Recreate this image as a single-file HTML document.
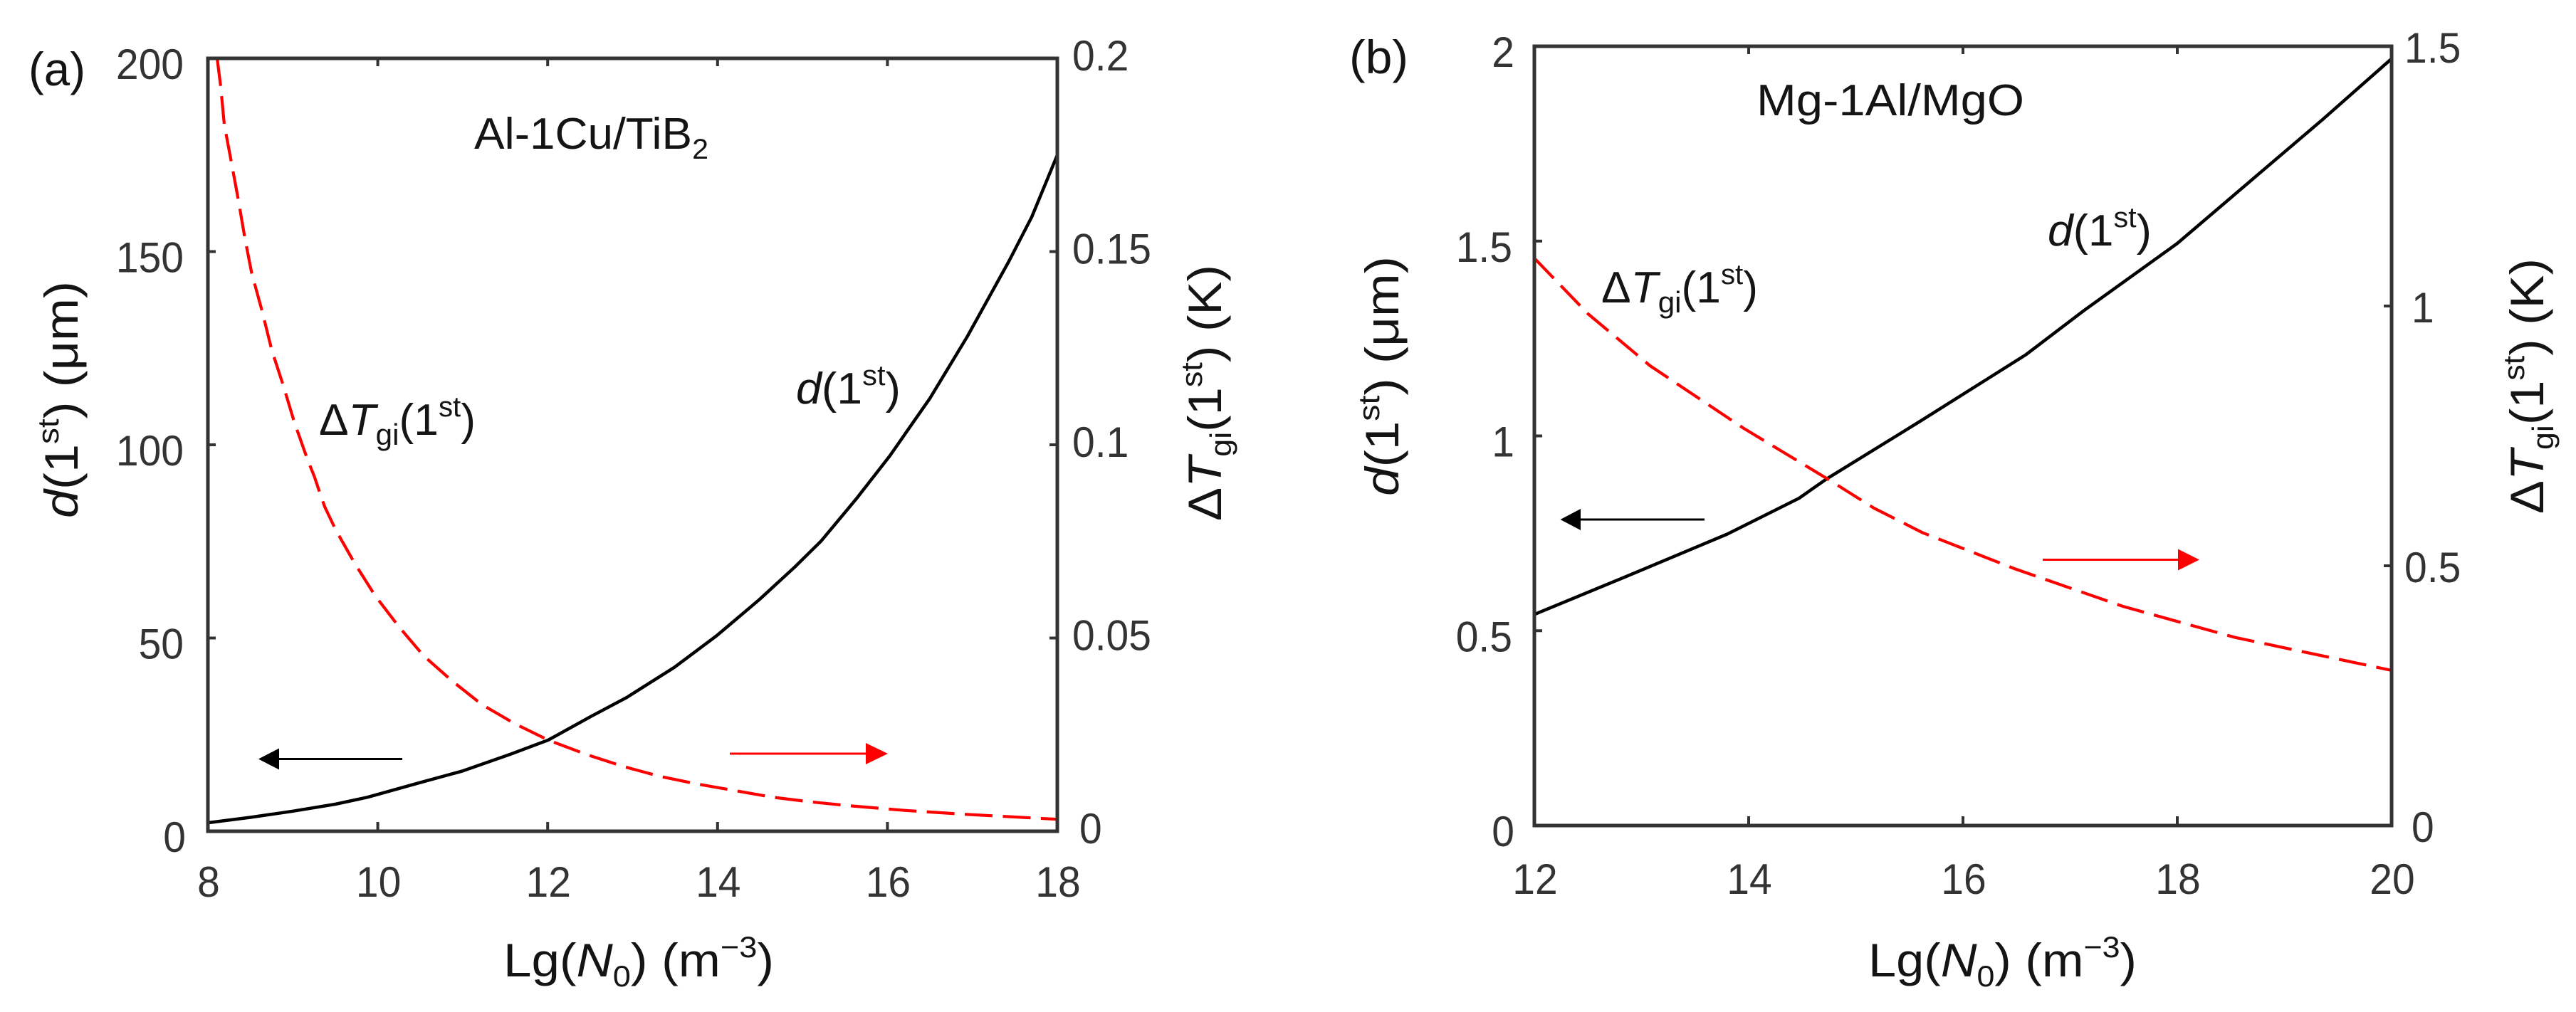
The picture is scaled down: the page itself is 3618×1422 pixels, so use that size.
<!DOCTYPE html>
<html lang="en">
<head>
<meta charset="utf-8">
<title>Lg(N0) charts</title>
<style>
html,body{margin:0;padding:0;background:#fff;width:3618px;height:1422px;overflow:hidden}
svg{display:block}
text{font-family:"Liberation Sans",sans-serif;fill:#262626}
.tick-label{font-size:60px;fill:#333}
.title{font-size:66px;fill:#141414}
.note{font-size:62px;fill:#141414}
.i{font-style:italic}
</style>
</head>
<body>
<svg id="figure" xmlns="http://www.w3.org/2000/svg" width="3618" height="1422" viewBox="0 0 3618 1422">
  <rect width="3618" height="1422" fill="#fff"/>
  <g id="panel-a"></g>
  <g id="panel-b"></g>

  <text class="title" x="40" y="120" textLength="80" lengthAdjust="spacingAndGlyphs">(a)</text>
  <text class="note" x="666" y="209" textLength="329" lengthAdjust="spacingAndGlyphs">Al-1Cu/TiB<tspan font-size="40" dy="14">2</tspan></text>
  <text class="note" x="448" y="611" textLength="220" lengthAdjust="spacingAndGlyphs">Δ<tspan class="i">T</tspan><tspan font-size="42" dy="14">gi</tspan><tspan dy="-14">(1</tspan><tspan font-size="40" dy="-26">st</tspan><tspan dy="26">)</tspan></text>
  <text class="note" x="1118" y="567" textLength="147" lengthAdjust="spacingAndGlyphs"><tspan class="i">d</tspan>(1<tspan font-size="40" dy="-26">st</tspan><tspan dy="26">)</tspan></text>
  <text class="title" transform="translate(109 728) rotate(-90)" textLength="333" lengthAdjust="spacingAndGlyphs"><tspan class="i">d</tspan>(1<tspan font-size="42" dy="-27">st</tspan><tspan dy="27">) (μm)</tspan></text>
  <text class="title" transform="translate(1715 732) rotate(-90)" textLength="360" lengthAdjust="spacingAndGlyphs">Δ<tspan class="i">T</tspan><tspan font-size="42" dy="14">gi</tspan><tspan dy="-14">(1</tspan><tspan font-size="42" dy="-27">st</tspan><tspan dy="27">) (K)</tspan></text>
  <text class="title" x="707" y="1372" textLength="380" lengthAdjust="spacingAndGlyphs">Lg(<tspan class="i">N</tspan><tspan font-size="42" dy="14">0</tspan><tspan dy="-14">) (m</tspan><tspan font-size="42" dy="-27">−3</tspan><tspan dy="27">)</tspan></text>

  <g>
    <line x1="565" y1="1066.5" x2="390" y2="1066.5" stroke="#000" stroke-width="3"/>
    <polygon points="363,1066.5 392,1051.5 392,1081.5" fill="#000"/>
  </g>
  <g>
    <line x1="1025" y1="1059" x2="1218" y2="1059" stroke="#f00" stroke-width="3"/>
    <polygon points="1247,1059 1216,1044 1216,1074" fill="#f00"/>
  </g>

  <text class="title" x="1895" y="103" textLength="83" lengthAdjust="spacingAndGlyphs">(b)</text>
  <text class="note" x="2467" y="162" textLength="376" lengthAdjust="spacingAndGlyphs">Mg-1Al/MgO</text>
  <text class="note" x="2249" y="425" textLength="220" lengthAdjust="spacingAndGlyphs">Δ<tspan class="i">T</tspan><tspan font-size="42" dy="14">gi</tspan><tspan dy="-14">(1</tspan><tspan font-size="40" dy="-26">st</tspan><tspan dy="26">)</tspan></text>
  <text class="note" x="2876" y="345" textLength="146" lengthAdjust="spacingAndGlyphs"><tspan class="i">d</tspan>(1<tspan font-size="40" dy="-26">st</tspan><tspan dy="26">)</tspan></text>
  <text class="title" transform="translate(1964 697) rotate(-90)" textLength="337" lengthAdjust="spacingAndGlyphs"><tspan class="i">d</tspan>(1<tspan font-size="42" dy="-27">st</tspan><tspan dy="27">) (μm)</tspan></text>
  <text class="title" transform="translate(3572 722) rotate(-90)" textLength="359" lengthAdjust="spacingAndGlyphs">Δ<tspan class="i">T</tspan><tspan font-size="42" dy="14">gi</tspan><tspan dy="-14">(1</tspan><tspan font-size="42" dy="-27">st</tspan><tspan dy="27">) (K)</tspan></text>
  <text class="title" x="2624" y="1372" textLength="377" lengthAdjust="spacingAndGlyphs">Lg(<tspan class="i">N</tspan><tspan font-size="42" dy="14">0</tspan><tspan dy="-14">) (m</tspan><tspan font-size="42" dy="-27">−3</tspan><tspan dy="27">)</tspan></text>

  <g>
    <line x1="2394" y1="730" x2="2218" y2="730" stroke="#000" stroke-width="3"/>
    <polygon points="2191.5,730 2220,715 2220,745" fill="#000"/>
  </g>
  <g>
    <line x1="2869" y1="786.5" x2="3061" y2="786.5" stroke="#f00" stroke-width="3"/>
    <polygon points="3089,786.5 3059,771.5 3059,801.5" fill="#f00"/>
  </g>
</svg>
<script>
// Panel (a): Al-1Cu/TiB2
const aXTicks = [8, 10, 12, 14, 16, 18];
const aLeftTicks = [0, 50, 100, 150, 200];
const aRightTicks = [0, 0.05, 0.1, 0.15, 0.2];
const aDiameterX = [8, 8.5, 9, 9.5, 9.88, 10.5, 11, 11.56, 12.007, 12.51, 12.93, 13.49, 13.99, 14.49, 14.91, 15.22, 15.64, 16.03, 16.5, 16.94, 17.43, 17.7, 18];
const aDiameter = [2.2, 3.6, 5.2, 7, 8.8, 12.6, 15.6, 19.9, 23.6, 29.7, 34.6, 42.4, 50.6, 59.9, 68.4, 75.1, 86.2, 97.2, 112, 128, 147.5, 159, 175];
const aUndercoolX = [8.109, 8.151, 8.193, 8.277, 8.36, 8.436, 8.514, 8.64, 8.752, 8.891, 9.017, 9.171, 9.255, 9.324, 9.375, 9.506, 9.729, 9.967, 10.246, 10.54, 10.875, 11.225, 11.615, 12.007, 12.451, 12.887, 13.32, 13.767, 14.211, 14.647, 15.091, 15.553, 16.2, 16.894, 18];
const aUndercool = [0.2, 0.1927, 0.1829, 0.1731, 0.1632, 0.1534, 0.1446, 0.1344, 0.1245, 0.1151, 0.1059, 0.0963, 0.0917, 0.0871, 0.084, 0.0779, 0.0693, 0.061, 0.053, 0.0454, 0.0389, 0.0328, 0.0278, 0.0236, 0.0199, 0.0168, 0.0142, 0.0122, 0.0105, 0.0088, 0.0076, 0.0066, 0.0054, 0.0044, 0.0031];

// Panel (b): Mg-1Al/MgO
const bXTicks = [12, 14, 16, 18, 20];
const bLeftTicks = [0, 0.5, 1, 1.5, 2];
const bRightTicks = [0, 0.5, 1, 1.5];
const bDiameterX = [12, 12.96, 13.8, 14.47, 14.73, 15.62, 16.59, 17.13, 18, 19.36, 20];
const bDiameter = [0.5417, 0.651, 0.748, 0.84, 0.89, 1.041, 1.209, 1.322, 1.494, 1.813, 1.968];
const bUndercoolX = [12, 12.5, 13.08, 13.95, 14.73, 15.17, 15.62, 16.48, 17.49, 18.54, 20];
const bUndercool = [1.092, 0.985, 0.885, 0.765, 0.668, 0.611, 0.564, 0.4945, 0.422, 0.362, 0.2986];

const NS = 'http://www.w3.org/2000/svg';
function shape(parent, tag, attrs) {
  const el = document.createElementNS(NS, tag);
  for (const k in attrs) el.setAttribute(k, attrs[k]);
  parent.appendChild(el);
  return el;
}
function linear(d0, d1, r0, r1) {
  return v => r0 + (v - d0) * (r1 - r0) / (d1 - d0);
}
function pathOf(xs, ys, sx, sy) {
  return xs.map((x, i) => (i ? 'L' : 'M') + sx(x).toFixed(1) + ' ' + sy(ys[i]).toFixed(1)).join(' ');
}
function narrow(textEl) {
  const w = textEl.getComputedTextLength();
  textEl.setAttribute('textLength', (w * 0.95).toFixed(1));
  textEl.setAttribute('lengthAdjust', 'spacingAndGlyphs');
}

function drawPanel(group, box, series, ticks, textPos) {
  const sx = linear(ticks.x[0], ticks.x[ticks.x.length - 1], box.left, box.right);
  const sl = linear(ticks.l[0], ticks.l[ticks.l.length - 1], box.bottom, box.top);
  const sr = linear(ticks.r[0], ticks.r[ticks.r.length - 1], box.bottom, box.top);

  const dLine = shape(group, 'path', {d: pathOf(series.dx, series.d, sx, sl), fill: 'none', stroke: '#000', 'stroke-width': 4.5, 'stroke-linejoin': 'round'});
  
  
  const tLine = shape(group, 'path', {d: pathOf(series.tx, series.t, sx, sr), fill: 'none', stroke: '#f00', 'stroke-width': 4.2, 'stroke-dasharray': '39 14.5'});
  
  

  const frame = shape(group, 'path', {d: `M${box.left} ${box.top} H${box.right} V${box.bottom} H${box.left} Z`, fill: 'none', stroke: '#333', 'stroke-width': 5});
  
  

  ticks.x.forEach((v, i) => {
    const x = sx(v);
    if (i > 0 && i < ticks.x.length - 1) {
      const t = shape(group, 'path', {d: `M${x} ${box.bottom} v-13 M${x} ${box.top} v11`, stroke: '#333', 'stroke-width': 4, fill: 'none'});
      
      
    }
    const l = shape(group, 'text', {x: x + 1, y: textPos.xBase, 'text-anchor': 'middle', class: 'tick-label'});
    l.textContent = v;
    
    
    narrow(l);
  });
  ticks.l.forEach((v, i) => {
    const y = sl(v);
    if (i > 0 && i < ticks.l.length - 1) {
      const t = shape(group, 'line', {x1: box.left, x2: box.left + 11, y1: y, y2: y, stroke: '#333', 'stroke-width': 4});
      
      
    }
    const l = shape(group, 'text', {x: textPos.leftEdge + (String(v).length === 1 ? 3 : 0), y: y + textPos.leftDy, 'text-anchor': 'end', class: 'tick-label'});
    l.textContent = v;
    
    
    narrow(l);
  });
  ticks.r.forEach((v, i) => {
    const y = sr(v);
    if (i > 0 && i < ticks.r.length - 1) {
      const t = shape(group, 'line', {x1: box.right, x2: box.right - 11, y1: y, y2: y, stroke: '#333', 'stroke-width': 4});
      
      
    }
    const l = shape(group, 'text', {x: textPos.rightEdge + (String(v).length === 1 ? 10 : 0), y: y + textPos.rightDy, class: 'tick-label'});
    l.textContent = v;
    
    
    narrow(l);
  });
}

drawPanel(document.getElementById('panel-a'),
  {left: 292, right: 1485, top: 82, bottom: 1168},
  {dx: aDiameterX, d: aDiameter, tx: aUndercoolX, t: aUndercool},
  {x: aXTicks, l: aLeftTicks, r: aRightTicks},
  {xBase: 1260, leftEdge: 258, leftDy: 29, rightEdge: 1506, rightDy: 17});

drawPanel(document.getElementById('panel-b'),
  {left: 2155, right: 3359, top: 65, bottom: 1160},
  {dx: bDiameterX, d: bDiameter, tx: bUndercoolX, t: bUndercool},
  {x: bXTicks, l: bLeftTicks, r: bRightTicks},
  {xBase: 1256, leftEdge: 2124, leftDy: 29, rightEdge: 3377, rightDy: 23});
</script>
</body>
</html>
